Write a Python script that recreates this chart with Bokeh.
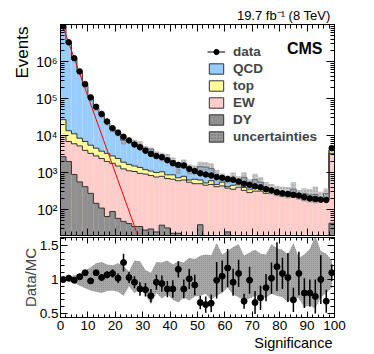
import numpy as np
from bokeh.plotting import figure
from bokeh.models import (Range1d, LinearAxis, LogAxis, Label, Legend, LegendItem,
                          FixedTicker, CustomJSTickFormatter, Title)
from bokeh.layouts import column
from bokeh.embed import file_html
from bokeh.resources import INLINE

FONT = "Liberation Sans"

# ---------------- data ----------------
bin_edges = list(range(0, 101, 2))
bin_centers = list(range(1, 100, 2))

data = [8.9e6, 3.3e6, 1.23e6, 5.4e5, 2.45e5, 1.07e5, 6.0e4, 3.8e4, 2.4e4, 1.58e4,
        1.2e4, 9.3e3, 7.4e3, 5.75e3, 4.8e3, 3.9e3, 3.2e3, 2.8e3, 2.6e3, 2.15e3,
        1.8e3, 1.62e3, 1.55e3, 1.26e3, 1.1e3, 955, 890, 830, 760, 725,
        675, 645, 575, 500, 470, 425, 400, 355, 330, 295,
        275, 263, 251, 240, 219, 200, 195, 186, 182, 4570]

# stack levels (cumulative): DY, DY+EW, DY+EW+top, DY+EW+top+QCD
stack_dy = [2700, 2000, 890, 560, 417, 275, 148, 110, 65, 89,
            58, 48, 42, 35, 35, 28, 30, 25, 38, 32,
            23, 23, 0, 0, 0, 39, 0, 0, 0, 0,
            25, 0, 0, 0, 0, 20, 0, 0, 0, 0,
            0, 0, 0, 0, 0, 0, 0, 0, 0, 43]
stack_ew = [10000, 6900, 6000, 5250, 3980, 3310, 2820, 2400, 2000, 1780,
            1510, 1260, 1120, 1070, 955, 912, 832, 759, 794, 692,
            661, 603, 631, 550, 501, 501, 457, 479, 417, 437,
            380, 355, 398, 331, 288, 316, 316, 275, 288, 251,
            229, 240, 219, 209, 182, 200, 166, 174, 182, 3310]
stack_top = [26900, 13500, 11200, 8510, 6920, 5500, 4570, 3800, 3310, 2820,
             2400, 1910, 1660, 1510, 1380, 1200, 1100, 1000, 1050, 871,
             871, 724, 794, 631, 661, 631, 525, 603, 479, 550,
             417, 457, 479, 398, 347, 417, 363, 331, 316, 288,
             275, 288, 251, 240, 209, 229, 200, 200, 200, 3980]
stack_qcd = [8.9e6, 3.24e6, 1.23e6, 5.1e5, 2.24e5, 1.1e5, 5.5e4, 3.7e4, 2.24e4, 1.45e4,
             1.17e4, 7.4e3, 7.2e3, 6.0e3, 5.6e3, 4.6e3, 4.3e3, 2.95e3, 2.75e3, 2.5e3,
             2.1e3, 1.4e3, 1.8e3, 1.26e3, 1.2e3, 1.45e3, 1.4e3, 1.29e3, 760, 690,
             575, 675, 525, 740, 470, 645, 550, 405, 325, 300,
             290, 300, 355, 255, 275, 250, 255, 215, 270, 4200]

ratio = [1.00, 1.02, 0.99, 1.04, 1.10, 0.98, 1.10, 1.03, 1.07, 1.09,
         1.02, 1.25, 1.03, 0.96, 0.86, 0.85, 0.76, 0.96, 0.94, 0.86,
         0.86, 1.15, 0.86, 1.01, 0.92, 0.66, 0.63, 0.65, 0.99, 1.05,
         1.17, 0.96, 1.09, 0.68, 0.99, 0.66, 0.73, 0.88, 1.02, 1.19,
         1.09, 1.03, 0.70, 1.09, 0.80, 0.80, 0.75, 1.00, 0.68, 1.10]
ratio_err = [0.005, 0.008, 0.01, 0.015, 0.02, 0.03, 0.04, 0.05, 0.05, 0.06,
             0.07, 0.13, 0.08, 0.09, 0.1, 0.1, 0.1, 0.11, 0.12, 0.12,
             0.13, 0.12, 0.14, 0.15, 0.15, 0.10, 0.12, 0.13, 0.27, 0.23,
             0.28, 0.2, 0.2, 0.11, 0.2, 0.17, 0.18, 0.2, 0.23, 0.36,
             0.23, 0.36, 0.18, 0.32, 0.22, 0.2, 0.25, 0.36, 0.17, 0.12]
unc_up = [1.01, 1.04, 1.06, 1.09, 1.13, 1.18, 1.24, 1.26, 1.22, 1.21,
          1.24, 1.20, 1.12, 1.28, 1.27, 1.14, 1.10, 1.26, 1.25, 1.28,
          1.22, 1.27, 1.25, 1.32, 1.30, 1.35, 1.37, 1.36, 1.54, 1.37,
          1.42, 1.48, 1.52, 1.35, 1.40, 1.44, 1.38, 1.37, 1.52, 1.46,
          1.44, 1.37, 1.54, 1.32, 1.37, 1.45, 1.64, 1.42, 1.38, 1.28]
unc_lo = [0.99, 0.97, 0.95, 0.91, 0.87, 0.84, 0.82, 0.80, 0.83, 0.84,
          0.82, 0.76, 0.90, 0.80, 0.86, 0.78, 0.64, 0.80, 0.72, 0.78,
          0.70, 0.66, 0.74, 0.69, 0.75, 0.76, 0.79, 0.70, 0.76, 0.80,
          0.88, 0.78, 0.74, 0.69, 0.72, 0.76, 0.74, 0.73, 0.79, 0.76,
          0.74, 0.66, 0.75, 0.72, 0.59, 0.62, 0.57, 0.74, 0.80, 0.88]

fit_x = [0.6, 28.2]
fit_y = [1.0e7, 20]

x_major = list(range(0, 101, 10))
y_major = [1e2, 1e3, 1e4, 1e5, 1e6]
r_major = [0.5, 1.0, 1.5]

# ---------------- helpers ----------------
C_QCD, C_TOP, C_EW, C_DY = "#99ccff", "#ffff99", "#ffcccc", "#8f8f8f"
C_LINE = "#333333"
FLOOR = 1.0

edges = np.array(bin_edges, float)
left, right = edges[:-1], edges[1:]


def style_axis(ax, labels, major=8, minor=4):
    ax.major_tick_in = major
    ax.major_tick_out = 0
    ax.minor_tick_in = minor
    ax.minor_tick_out = 0
    ax.axis_line_color = "black"
    ax.major_tick_line_color = "black"
    ax.minor_tick_line_color = "black"
    ax.major_label_text_font = FONT
    ax.major_label_text_color = "black"
    if labels:
        ax.major_label_text_font_size = "13.5px"
        ax.major_label_standoff = 3
    else:
        ax.major_label_text_font_size = "1px"
        ax.major_label_text_alpha = 0
        ax.major_label_standoff = 0


# ---------------- main panel ----------------
p1 = figure(width=366, height=236, y_axis_type="log",
            x_range=Range1d(0, 100), y_range=Range1d(20, 1e7),
            x_axis_location=None, y_axis_location=None,
            output_backend="svg", toolbar_location=None,
            min_border_left=60, min_border_right=32,
            min_border_top=24, min_border_bottom=1)
p1.grid.visible = False
p1.outline_line_color = "black"
p1.background_fill_color = "white"
p1.border_fill_color = "white"

for lvl, col in [(stack_qcd, C_QCD), (stack_top, C_TOP), (stack_ew, C_EW), (stack_dy, C_DY)]:
    p1.quad(left=left, right=right, bottom=FLOOR,
            top=np.maximum(np.array(lvl, float), FLOOR),
            fill_color=col, line_color=None)
for lvl in [stack_qcd, stack_top, stack_ew, stack_dy]:
    arr = np.maximum(np.array(lvl, float), FLOOR)
    p1.step(x=edges, y=np.append(arr, arr[-1]), mode="after",
            line_color=C_LINE, line_width=1)

mc = np.array(stack_qcd, float)
p1.quad(left=left, right=right, bottom=mc * np.array(unc_lo), top=mc * np.array(unc_up),
        fill_color="#9a9a9a", fill_alpha=0.55, line_color=None,
        hatch_pattern="dot", hatch_color="#6a6a6a", hatch_scale=3, hatch_alpha=0.6)

p1.line(fit_x, fit_y, line_color="red", line_width=1)
p1.scatter(bin_centers, data, size=5.5, color="black")

y_minor = [k * 10 ** e for e in range(1, 7) for k in range(2, 10)]
log_fmt = CustomJSTickFormatter(code="""
const sup = {'0':'\u2070','1':'\u00b9','2':'\u00b2','3':'\u00b3','4':'\u2074','5':'\u2075','6':'\u2076','7':'\u2077','8':'\u2078','9':'\u2079','-':'\u207b'};
const e = Math.round(Math.log10(tick));
return '10' + String(e).split('').map(c => sup[c]).join('');
""")
ax = LogAxis(ticker=FixedTicker(ticks=y_major, minor_ticks=y_minor), formatter=log_fmt)
style_axis(ax, True)
ax.major_label_text_font_size = "14px"
p1.add_layout(ax, "left")
ax = LogAxis(ticker=FixedTicker(ticks=y_major, minor_ticks=y_minor))
style_axis(ax, False)
p1.add_layout(ax, "right")
for loc in ["below", "above"]:
    ax = LinearAxis(ticker=FixedTicker(ticks=x_major, minor_ticks=list(range(0, 101, 2))))
    style_axis(ax, False, 7, 4)
    p1.add_layout(ax, loc)

p1.add_layout(Title(text="19.7 fb\u207b\u00b9 (8 TeV)", align="right",
                    text_font=FONT, text_font_size="13px", text_font_style="normal",
                    text_color="black", standoff=3, offset=4), "above")
p1.add_layout(Title(text="Events", align="right",
                    text_font=FONT, text_font_size="17px", text_font_style="normal",
                    text_color="black", standoff=2, offset=2), "left")
p1.add_layout(Label(x=95.6, y=2.24e6, text="CMS", text_align="right",
                    text_baseline="alphabetic", text_font=FONT,
                    text_font_size="16px", text_font_style="bold", text_color="black"))

# legend with proxy renderers placed outside the visible ranges
d_line = p1.line([-6, -4], [1, 1], line_color="black", line_width=1)
d_pt = p1.scatter([-5], [1], size=5, color="black")
proxy = dict(left=[-6], right=[-4], bottom=[1], top=[2], line_color=C_LINE)
r_q = p1.quad(fill_color=C_QCD, **proxy)
r_t = p1.quad(fill_color=C_TOP, **proxy)
r_e = p1.quad(fill_color=C_EW, **proxy)
r_d = p1.quad(fill_color=C_DY, **proxy)
r_u = p1.quad(fill_color="#9a9a9a", hatch_pattern="dot", hatch_color="#6a6a6a",
              hatch_scale=3, **proxy)
legend = Legend(items=[LegendItem(label="data", renderers=[d_line, d_pt]),
                       LegendItem(label="QCD", renderers=[r_q]),
                       LegendItem(label="top", renderers=[r_t]),
                       LegendItem(label="EW", renderers=[r_e]),
                       LegendItem(label="DY", renderers=[r_d]),
                       LegendItem(label="uncertainties", renderers=[r_u])],
                location=(147, 91), border_line_color=None, background_fill_alpha=0,
                padding=0, margin=0, spacing=2, glyph_width=18, glyph_height=13,
                label_height=13, label_standoff=8, label_text_font=FONT,
                label_text_font_size="13.5px", label_text_font_style="bold")
p1.add_layout(legend)

# ---------------- ratio panel ----------------
p2 = figure(width=366, height=118, x_range=p1.x_range, y_range=Range1d(0.44, 1.62),
            x_axis_location=None, y_axis_location=None,
            output_backend="svg", toolbar_location=None,
            min_border_left=60, min_border_right=32,
            min_border_top=1, min_border_bottom=37)
p2.grid.visible = False
p2.outline_line_color = "black"
p2.background_fill_color = "white"
p2.border_fill_color = "white"

band_x = bin_centers + bin_centers[::-1]
band_y = unc_up + unc_lo[::-1]
p2.patch(band_x, band_y, fill_color="#a8a8a8", line_color=None,
         hatch_pattern="dot", hatch_color="#8a8a8a", hatch_scale=2)

r = np.array(ratio)
e = np.array(ratio_err)
p2.segment(x0=bin_centers, y0=r - e, x1=bin_centers, y1=r + e,
           line_color="black", line_width=1.5)
p2.scatter(bin_centers, ratio, size=6, color="black")

r_minor = [0.5, 0.6, 0.7, 0.8, 0.9, 1.0, 1.1, 1.2, 1.3, 1.4, 1.5, 1.6]
r_fmt = CustomJSTickFormatter(code="return (Math.abs(tick - 1) < 1e-9) ? '1' : String(tick);")
ax = LinearAxis(ticker=FixedTicker(ticks=r_major, minor_ticks=r_minor),
                formatter=r_fmt, axis_label="Data/MC")
style_axis(ax, True, 7, 4)
ax.major_label_standoff = 2
ax.axis_label_text_font = FONT
ax.axis_label_text_font_size = "15px"
ax.axis_label_text_font_style = "normal"
ax.axis_label_standoff = -2
p2.add_layout(ax, "left")
ax = LinearAxis(ticker=FixedTicker(ticks=r_major, minor_ticks=r_minor))
style_axis(ax, False, 7, 4)
p2.add_layout(ax, "right")
ax = LinearAxis(ticker=FixedTicker(ticks=x_major, minor_ticks=list(range(0, 101, 2))))
style_axis(ax, True, 6, 3)
ax.major_label_standoff = 3
p2.add_layout(ax, "below")
ax = LinearAxis(ticker=FixedTicker(ticks=x_major, minor_ticks=list(range(0, 101, 2))))
style_axis(ax, False, 6, 3)
p2.add_layout(ax, "above")

p2.add_layout(Title(text="Significance", align="right", text_font=FONT,
                    text_font_size="14.5px", text_font_style="normal",
                    text_color="black", standoff=0, offset=2), "below")

layout = column(p1, p2, spacing=0)
open("out.html", "w").write(file_html(layout, INLINE))
